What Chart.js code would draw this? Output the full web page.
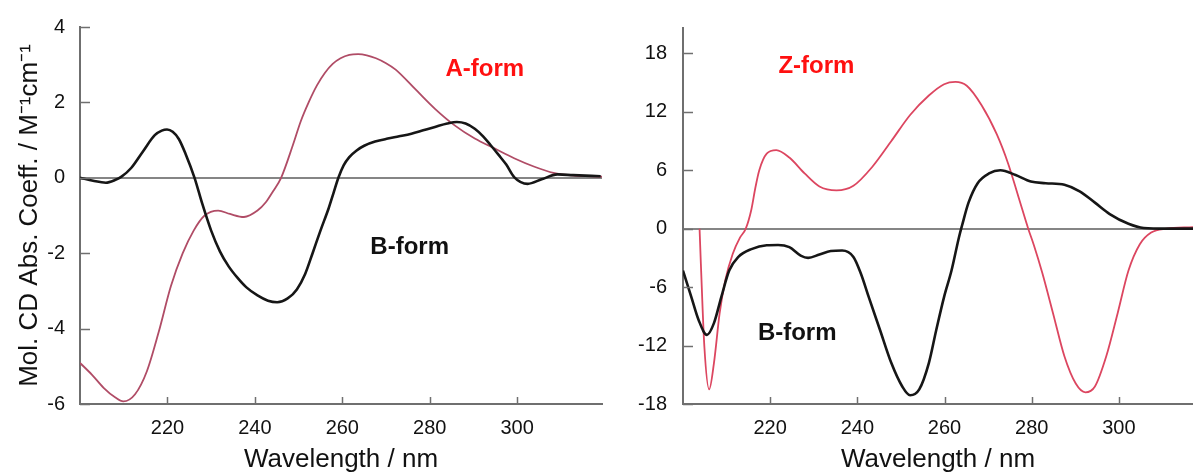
<!DOCTYPE html>
<html>
<head>
<meta charset="utf-8">
<title>CD spectra A, B and Z DNA</title>
<script src="https://cdn.jsdelivr.net/npm/chart.js@4.4.1/dist/chart.umd.min.js"></script>
<style>
    html, body { margin: 0; padding: 0; background: #fff; }
    #wrap { position: relative; width: 1193px; height: 475px; overflow: hidden; }
    .panel { position: absolute; top: 0; height: 475px; }
    #left { left: 0; width: 605px; }
    #right { left: 605px; width: 588px; }
</style>
</head>
<body>
<div id="wrap">
    <div class="panel" id="left"><canvas id="leftChart"></canvas></div>
    <div class="panel" id="right"><canvas id="rightChart"></canvas></div>
</div>
<script>
// ---- Data ----
// left panel: B-form (black) and A-form (pink)
const bLeftNm = [200, 203, 205.9, 208, 209.5, 211.7, 214.4, 217.1, 218.7, 219.9, 221.2, 222.6, 224.2, 226.2, 228, 230, 232, 234, 236, 238, 240.6, 243, 245.1, 247.5, 249.6, 251.5, 253.2, 255, 256.9, 258, 259.1, 260.3, 261.6, 263.2, 265, 267.5, 270.4, 273, 275.8, 278.5, 281.2, 284, 286.2, 288.2, 290.3, 292.2, 293.9, 295.8, 297.5, 299.3, 302.4, 305.6, 309.2, 312.8, 319.1];
const bLeftCd = [0, -0.08, -0.13, -0.06, 0.03, 0.26, 0.7, 1.13, 1.25, 1.28, 1.22, 1.03, 0.62, 0, -0.7, -1.4, -1.95, -2.35, -2.65, -2.9, -3.12, -3.26, -3.3, -3.2, -2.96, -2.55, -2.0, -1.4, -0.8, -0.4, 0, 0.33, 0.55, 0.72, 0.85, 0.96, 1.04, 1.1, 1.17, 1.26, 1.35, 1.44, 1.48, 1.44, 1.3, 1.1, 0.87, 0.6, 0.35, 0.02, -0.16, -0.04, 0.09, 0.07, 0.04];

const aLeftNm = [200, 202.7, 205.4, 208.1, 209.9, 212.6, 215.3, 218, 220.8, 223.5, 226, 228.5, 231.6, 234.3, 237.5, 240.6, 242.5, 244.2, 246, 248.7, 250.5, 252.3, 254.2, 256, 257.8, 259.6, 261.6, 263.6, 265.6, 267.7, 270, 272.2, 276.7, 281.2, 285.7, 290.3, 294.8, 299.3, 303.8, 308.3, 312.8, 317.3, 319.4];
const aLeftCd = [-4.91, -5.22, -5.57, -5.83, -5.93, -5.74, -5.13, -4.09, -2.87, -2.0, -1.4, -1.0, -0.87, -0.96, -1.04, -0.87, -0.65, -0.35, 0, 0.87, 1.5, 2.0, 2.45, 2.78, 3.02, 3.17, 3.26, 3.28, 3.25, 3.17, 3.04, 2.87, 2.35, 1.83, 1.39, 1.04, 0.78, 0.52, 0.3, 0.13, 0.06, 0.04, 0.03];

// right panel: B-form (black) and Z-form (red)
const bRightNm = [200, 201.9, 203.6, 205.5, 207.1, 208.8, 210.6, 212.7, 215.7, 219.2, 221.8, 224.4, 227, 228.7, 231.3, 233.9, 236.5, 239.1, 240.8, 242.6, 245.2, 247.8, 250.3, 252.1, 254.2, 256.4, 258.1, 259.9, 261.6, 263.3, 264, 265.5, 267.6, 270.2, 272.8, 276.3, 279.8, 283.2, 287.5, 291, 294.5, 297.9, 302.2, 305.7, 310.9, 317];
const bRightCd = [-4.3, -7, -9.4, -10.9, -9.7, -7, -4.3, -2.9, -2.1, -1.7, -1.67, -1.9, -2.76, -3.0, -2.65, -2.3, -2.24, -2.9, -4.6, -7, -10.4, -13.8, -16.2, -17.1, -16.5, -13.8, -10.4, -7, -4.3, -0.9, 0.3, 2.67, 4.67, 5.67, 6, 5.5, 4.83, 4.67, 4.5, 3.83, 2.67, 1.5, 0.5, 0.07, 0, 0];

const zRightNm = [203.8, 204.1, 204.9, 206, 207.1, 208.4, 209.7, 211.4, 213.1, 214.4, 215.7, 216.6, 217.5, 219.2, 221.4, 224.4, 227.9, 231.3, 235.2, 239.1, 243.4, 247.8, 252.1, 256.4, 259.9, 262.5, 265.1, 268.5, 272, 274.6, 277, 279.2, 280.5, 282.4, 284.9, 287.5, 290.1, 292.3, 294.5, 297.1, 299.7, 302.2, 304.8, 307.4, 310.9, 317];
const zRightCd = [0, -3.6, -12.1, -16.5, -13.8, -8.7, -5.3, -2.6, -0.9, 0, 2, 4.2, 6, 7.7, 8.07, 7.3, 5.67, 4.33, 3.93, 4.4, 6.33, 9, 11.67, 13.67, 14.83, 15.07, 14.67, 12.67, 9.67, 6.67, 3.2, 0, -1.7, -4.5, -8.7, -13.1, -15.9, -16.8, -16.2, -13.1, -8.7, -4.3, -1.6, -0.4, 0, 0.15];

// tick labels
const xTickValues = [220, 240, 260, 280, 300];
const leftYTicks = [-6, -4, -2, 0, 2, 4];
const rightYTicks = [-18, -12, -6, 0, 6, 12, 18];

// text labels inside the plots (data coordinates)
const leftLabels = [
    { text: "A-form", x: 292.6, y: 2.88, color: "#ff1010" },
    { text: "B-form", x: 275.4, y: -1.85, color: "#111111" },
];
const rightLabels = [
    { text: "Z-form", x: 230.6, y: 16.7, color: "#ff1010" },
    { text: "B-form", x: 226.2, y: -10.7, color: "#111111" },
];

const axisColor = "#6f6f6f";
const zeroColor = "#858585";
const FONT = "Arial, 'Liberation Sans', sans-serif";

function toPoints(xs, ys) {
    return xs.map((x, i) => ({ x: x, y: ys[i] }));
}

// Short tick marks drawn on the inside of the axes
const innerTicks = {
    id: "innerTicks",
    afterDatasetsDraw(chart) {
        const { ctx, chartArea } = chart;
        const x = chart.scales.x;
        const y = chart.scales.y;
        ctx.save();
        ctx.strokeStyle = axisColor;
        ctx.lineWidth = 1.5;
        ctx.beginPath();
        x.ticks.forEach((t) => {
            const px = Math.round(x.getPixelForValue(t.value)) + 0.5;
            ctx.moveTo(px, chartArea.bottom);
            ctx.lineTo(px, chartArea.bottom - 7);
        });
        y.ticks.forEach((t) => {
            const py = Math.round(y.getPixelForValue(t.value)) + 0.5;
            ctx.moveTo(chartArea.left, py);
            ctx.lineTo(chartArea.left + 10, py);
        });
        ctx.stroke();
        ctx.restore();
    },
};

// "A-form" / "B-form" / "Z-form" texts
const formLabels = {
    id: "formLabels",
    afterDatasetsDraw(chart, args, opts) {
        const { ctx } = chart;
        const x = chart.scales.x;
        const y = chart.scales.y;
        ctx.save();
        ctx.font = "bold 24px " + FONT;
        ctx.textAlign = "center";
        ctx.textBaseline = "middle";
        (opts.items || []).forEach((item) => {
            ctx.fillStyle = item.color;
            ctx.fillText(item.text, x.getPixelForValue(item.x), y.getPixelForValue(item.y));
        });
        ctx.restore();
    },
};

function makeChart(canvasId, cfg) {
    const ctx = document.getElementById(canvasId).getContext("2d");
    return new Chart(ctx, {
        type: "line",
        data: {
            datasets: [
                {
                    data: cfg.black,
                    borderColor: "#161616",
                    borderWidth: 2.6,
                    pointRadius: 0,
                    cubicInterpolationMode: "monotone",
                    fill: false,
                },
                {
                    data: cfg.colored,
                    borderColor: cfg.color,
                    borderWidth: 1.8,
                    pointRadius: 0,
                    cubicInterpolationMode: "monotone",
                    fill: false,
                },
            ],
        },
        options: {
            responsive: true,
            maintainAspectRatio: false,
            animation: false,
            events: [],
            layout: { padding: cfg.padding },
            plugins: {
                legend: { display: false },
                tooltip: { enabled: false },
                formLabels: { items: cfg.labels },
            },
            scales: {
                x: {
                    type: "linear",
                    min: cfg.xMin,
                    max: cfg.xMax,
                    afterBuildTicks: (scale) => {
                        scale.ticks = xTickValues.map((v) => ({ value: v }));
                    },
                    afterFit: (scale) => {
                        scale.height = 71;
                    },
                    grid: { display: false, drawTicks: false },
                    border: { display: true, color: axisColor, width: 2 },
                    ticks: {
                        color: "#111",
                        padding: 12,
                        maxRotation: 0,
                        font: { family: FONT, size: 20 },
                    },
                    title: {
                        display: true,
                        text: "Wavelength / nm",
                        color: "#111",
                        padding: { top: 0, bottom: 0 },
                        font: { family: FONT, size: 26 },
                    },
                },
                y: {
                    type: "linear",
                    min: cfg.yMin,
                    max: cfg.yMax,
                    afterBuildTicks: (scale) => {
                        scale.ticks = cfg.yTicks.map((v) => ({ value: v }));
                    },
                    afterFit: (scale) => {
                        scale.width = cfg.yWidth;
                    },
                    grid: {
                        display: true,
                        drawTicks: false,
                        lineWidth: 2,
                        color: (c) => (c.tick && c.tick.value === 0 ? zeroColor : "rgba(0,0,0,0)"),
                    },
                    border: { display: true, color: axisColor, width: 2 },
                    ticks: {
                        color: "#111",
                        padding: cfg.yPad,
                        font: { family: FONT, size: 20 },
                    },
                    title: {
                        display: cfg.yTitle !== "",
                        text: cfg.yTitle,
                        color: "#111",
                        padding: { top: 14, bottom: 0 },
                        font: { family: FONT, size: 26 },
                    },
                },
            },
        },
        plugins: [innerTicks, formLabels],
    });
}

document.addEventListener("DOMContentLoaded", () => {
    makeChart("leftChart", {
        black: toPoints(bLeftNm, bLeftCd),
        colored: toPoints(aLeftNm, aLeftCd),
        color: "#b04c66",
        labels: leftLabels,
        xMin: 200,
        xMax: 319.4,
        yMin: -6,
        yMax: 4,
        yTicks: leftYTicks,
        yWidth: 80,
        yPad: 15,
        yTitle: "Mol. CD Abs. Coeff. / M\u207B\u00B9cm\u207B\u00B9",
        padding: { top: 19, right: 3, left: 0, bottom: 0 },
    });

    makeChart("rightChart", {
        black: toPoints(bRightNm, bRightCd),
        colored: toPoints(zRightNm, zRightCd),
        color: "#dc4660",
        labels: rightLabels,
        xMin: 200,
        xMax: 317,
        yMin: -18,
        yMax: 20.6,
        yTicks: rightYTicks,
        yWidth: 78,
        yPad: 16,
        yTitle: "",
        padding: { top: 24, right: 0, left: 0, bottom: 0 },
    });
});
</script>
</body>
</html>
